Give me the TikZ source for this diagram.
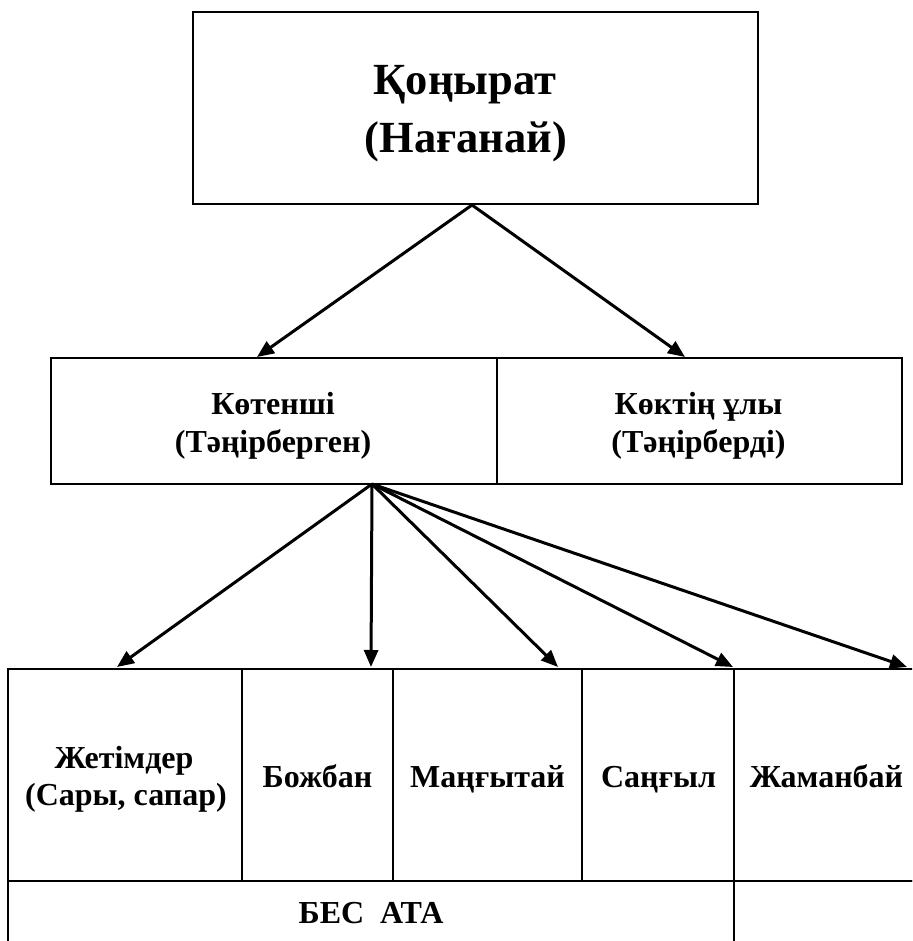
\documentclass[tikz,border=0pt]{standalone}
\usepackage{fontspec}
\setmainfont{Liberation Serif}
\usetikzlibrary{arrows.meta}
\begin{document}
\begin{tikzpicture}[x=1pt,y=-1pt,
  box/.style={draw, line width=1.8pt, rectangle, inner sep=0pt},
  lbl/.style={anchor=base, inner sep=0pt},
  bigtxt/.style={lbl, font=\bfseries\fontsize{44.5}{58}\selectfont},
  midtxt/.style={lbl, font=\bfseries\fontsize{32}{38}\selectfont},
  lowtxt/.style={lbl, font=\bfseries\fontsize{32}{37}\selectfont},
  conn/.style={line width=3pt, -{Triangle[length=17pt,width=14pt]}}]
\useasboundingbox (0,0) rectangle (912,941);
\clip (0,0) rectangle (912,941);
% boxes
\node[box, minimum width=565pt, minimum height=192pt] (top) at (475.5,108) {};
\node[box, minimum width=446pt, minimum height=126pt] (kot) at (274,421) {};
\node[box, minimum width=405pt, minimum height=126pt] (kok) at (699.5,421) {};
\node[box, minimum width=234pt, minimum height=212pt] (c1) at (125,775) {};
\node[box, minimum width=151pt, minimum height=212pt] (c2) at (317.5,775) {};
\node[box, minimum width=189pt, minimum height=212pt] (c3) at (487.5,775) {};
\node[box, minimum width=152pt, minimum height=212pt] (c4) at (658,775) {};
\node[box, minimum width=185pt, minimum height=212pt] (c5) at (826.5,775) {};
\node[box, minimum width=726pt, minimum height=64pt] (bes) at (371,913) {};
\node[box, minimum width=185pt, minimum height=64pt] (empty) at (826.5,913) {};
% texts
\node[bigtxt] (topA) at (465,95) {Қоңырат};
\node[bigtxt] (topB) at (466,153) {(Нағанай)};
\node[midtxt] (kotA) at (273,414) {Көтенші};
\node[midtxt] (kotB) at (273,452) {(Тәңірберген)};
\node[midtxt] (kokA) at (698.5,414) {Көктің ұлы};
\node[midtxt] (kokB) at (698.5,452) {(Тәңірберді)};
\node[lowtxt] (c1A) at (124,768) {Жетімдер};
\node[lowtxt] (c1B) at (126,805) {(Сары, сапар)};
\node[lowtxt] (c2A) at (317.5,787) {Божбан};
\node[lowtxt] (c3A) at (487.5,787) {Маңғытай};
\node[lowtxt] (c4A) at (658.5,787) {Саңғыл};
\node[lowtxt] (c5A) at (826.5,787) {Жаманбай};
\node[lowtxt] (besA) at (371,923) {БЕС\ \ АТА};
% connector endpoints
\coordinate (a0) at (472,205);
\coordinate (m0) at (372,484);
\coordinate (t1) at (257,357);
\coordinate (t2) at (685,357);
\coordinate (b1) at (117,667);
\coordinate (b2) at (371,667);
\coordinate (b3) at (558,667);
\coordinate (b4) at (733,667);
\coordinate (b5) at (907,667);
\draw[conn] (a0) -- (t1);
\draw[conn] (a0) -- (t2);
\foreach \t in {b1,b2,b3,b4,b5} \draw[conn] (m0) -- (\t);
\end{tikzpicture}
\end{document}
